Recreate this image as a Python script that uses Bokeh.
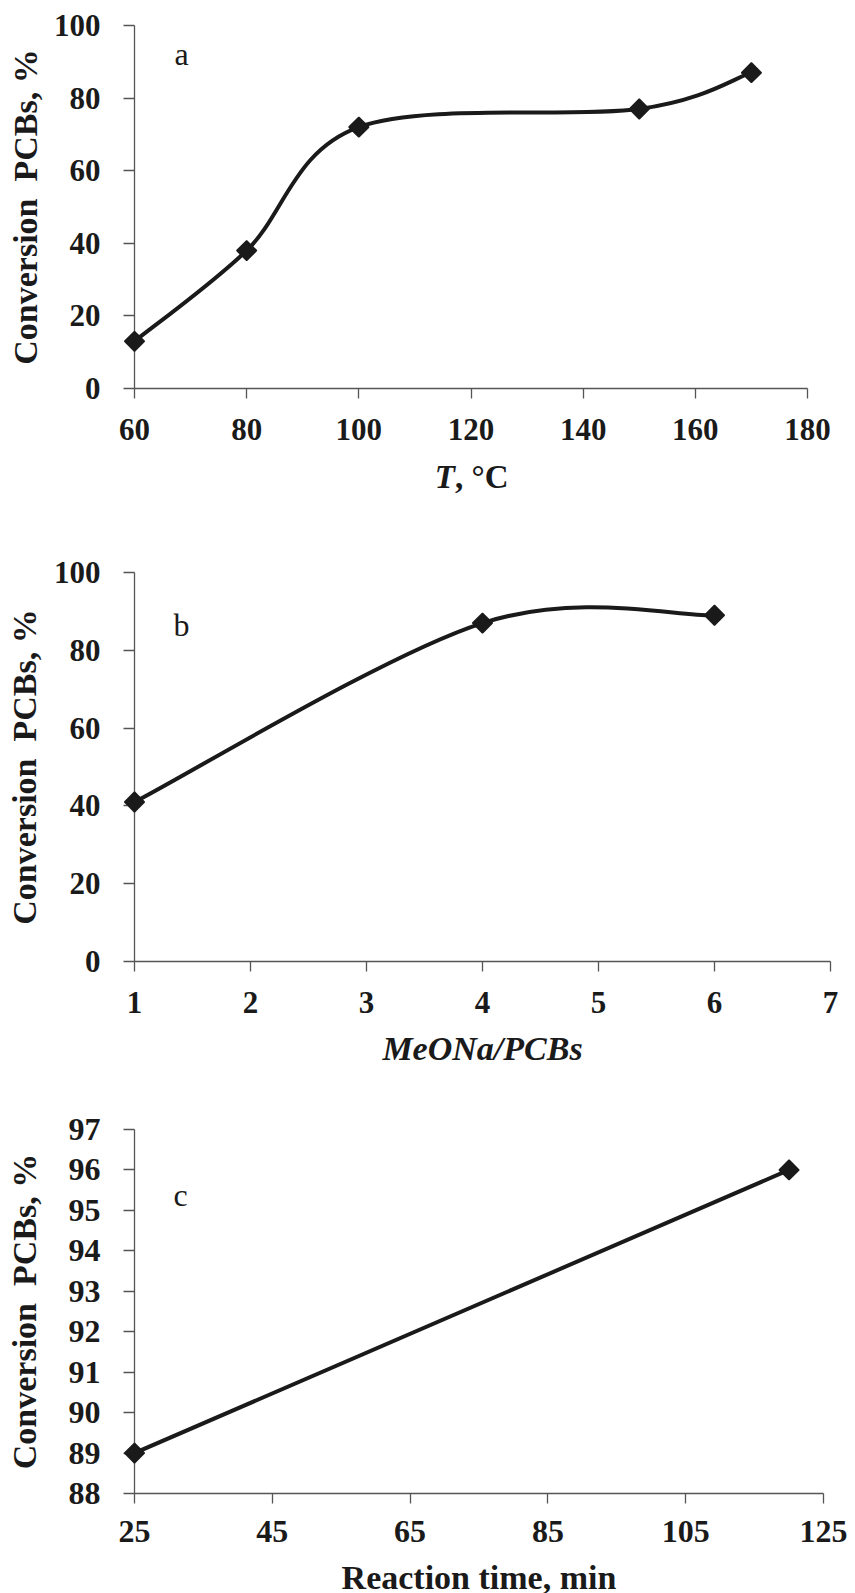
import numpy as np
from bokeh.plotting import figure
from bokeh.layouts import column
from bokeh.models import Range1d, FixedTicker, Label
from bokeh.core.properties import value
from bokeh.embed import file_html
from bokeh.resources import INLINE

# ---------------- data ----------------
# panel a: conversion vs temperature
temp_c = [60, 80, 100, 150, 170]
conv_temp = [13, 38, 72, 77, 87]
temp_ticks = [60, 80, 100, 120, 140, 160, 180]

# panel b: conversion vs MeONa/PCBs ratio
ratio = [1, 4, 6]
conv_ratio = [41, 87, 89]
ratio_ticks = [1, 2, 3, 4, 5, 6, 7]

# panel c: conversion vs reaction time
time_min = [25, 120]
conv_time = [89, 96]
time_ticks = [25, 45, 65, 85, 105, 125]

conv_ticks_ab = [0, 20, 40, 60, 80, 100]
conv_ticks_c = [88, 89, 90, 91, 92, 93, 94, 95, 96, 97]

Y_LABEL = "Conversion\u00a0 PCBs, %"
INK = "#1a1a1a"
AXC = "#555555"
FONT = "Liberation Serif"


def smooth_segments(xs, ys):
    """Bezier control points of a smoothed (Catmull-Rom style) line through the data."""
    x = np.asarray(xs, float)
    y = np.asarray(ys, float)
    n = len(x)
    xp = np.concatenate([[x[0]], x, [x[-1]]])
    yp = np.concatenate([[y[0]], y, [y[-1]]])
    return dict(
        x0=x[:-1], y0=y[:-1], x1=x[1:], y1=y[1:],
        cx0=x[:-1] + (xp[2:n + 1] - xp[0:n - 1]) / 6.0,
        cy0=y[:-1] + (yp[2:n + 1] - yp[0:n - 1]) / 6.0,
        cx1=x[1:] - (xp[3:n + 2] - xp[1:n]) / 6.0,
        cy1=y[1:] - (yp[3:n + 2] - yp[1:n]) / 6.0,
    )


def make_fig(xr, yr, xticks, yticks, bl, fw, br, bt, fh, bb,
             tick_fs, ylab_standoff, xlabel=None, xlab_fs="34px",
             xlab_style="bold", xlab_standoff=10, xtick_standoff=20):
    p = figure(x_range=Range1d(*xr), y_range=Range1d(*yr),
               frame_width=fw, frame_height=fh,
               min_border_left=bl, min_border_right=br,
               min_border_top=bt, min_border_bottom=bb,
               output_backend="svg", toolbar_location=None,
               background_fill_color="white", border_fill_color="white")
    p.outline_line_color = None
    p.xgrid.visible = False
    p.ygrid.visible = False
    p.xaxis.ticker = FixedTicker(ticks=xticks)
    p.yaxis.ticker = FixedTicker(ticks=yticks)
    for ax in (p.xaxis[0], p.yaxis[0]):
        ax.axis_line_color = AXC
        ax.axis_line_width = 1.3
        ax.major_tick_line_color = AXC
        ax.major_tick_line_width = 1.3
        ax.major_tick_in = 0
        ax.major_tick_out = 10
        ax.minor_tick_line_color = None
        ax.major_label_text_font = FONT
        ax.major_label_text_font_style = "bold"
        ax.major_label_text_font_size = tick_fs
        ax.major_label_text_color = INK
    p.xaxis.major_label_standoff = xtick_standoff
    p.yaxis.major_label_standoff = 23
    p.yaxis.major_tick_out = 11
    p.yaxis.axis_label = Y_LABEL
    p.yaxis.axis_label_text_font = FONT
    p.yaxis.axis_label_text_font_style = "bold"
    p.yaxis.axis_label_text_font_size = "34px"
    p.yaxis.axis_label_text_color = INK
    p.yaxis.axis_label_standoff = ylab_standoff
    if xlabel:
        p.xaxis.axis_label = xlabel
        p.xaxis.axis_label_text_font = FONT
        p.xaxis.axis_label_text_font_style = xlab_style
        p.xaxis.axis_label_text_font_size = xlab_fs
        p.xaxis.axis_label_text_color = INK
        p.xaxis.axis_label_standoff = xlab_standoff
    return p


def add_markers(p, xs, ys):
    r = p.scatter(xs, ys, marker="square", size=14, angle=np.pi / 4,
                  fill_color=INK, line_color=INK, line_width=1.5)
    r.level = "overlay"


def panel_letter(p, text, x, y):
    p.add_layout(Label(x=x, y=y, x_units="screen", y_units="screen", text=text,
                       text_font=FONT, text_font_size="32px", text_color=INK,
                       text_baseline="alphabetic", text_align="left"))


# ---------------- panel a ----------------
XR_A = (60, 180)
YR_A = (0, 100)
pa = make_fig(XR_A, YR_A, temp_ticks, conv_ticks_ab,
              bl=133, fw=673, br=49, bt=25, fh=363, bb=157,
              tick_fs="31px", ylab_standoff=7)
seg_a = smooth_segments(temp_c, conv_temp)
pa.bezier(source=seg_a, x0="x0", y0="y0", x1="x1", y1="y1",
          cx0="cx0", cy0="cy0", cx1="cx1", cy1="cy1",
          line_color=INK, line_width=4)
add_markers(pa, temp_c, conv_temp)
panel_letter(pa, "a", 40, 335)

# x-axis title of panel a ("T" italic, ", °C" upright), placed below the axis
mid_a = (XR_A[0] + XR_A[1]) / 2
for txt, style, align in (("T", "bold italic", "right"), (", °C", "bold", "left")):
    r = pa.text(x=[mid_a], y=[YR_A[0]], text=[txt], x_offset=-16, y_offset=88,
                text_font=value(FONT), text_font_size="33px", text_font_style=style,
                text_color=INK, text_align=align, text_baseline="alphabetic")
    r.level = "overlay"

# ---------------- panel b ----------------
pb = make_fig((1, 7), (0, 100), ratio_ticks, conv_ticks_ab,
              bl=134, fw=696, br=25, bt=27, fh=389, bb=139,
              tick_fs="31px", ylab_standoff=8,
              xlabel="MeONa/PCBs", xlab_fs="34px", xlab_style="bold italic",
              xlab_standoff=14)
seg_b = smooth_segments(ratio, conv_ratio)
pb.bezier(source=seg_b, x0="x0", y0="y0", x1="x1", y1="y1",
          cx0="cx0", cy0="cy0", cx1="cx1", cy1="cy1",
          line_color=INK, line_width=4)
add_markers(pb, ratio, conv_ratio)
panel_letter(pb, "b", 39, 337)

# ---------------- panel c ----------------
pc = make_fig((25, 125), (88, 97), time_ticks, conv_ticks_c,
              bl=134, fw=689, br=32, bt=29, fh=364, bb=100,
              tick_fs="32px", ylab_standoff=23,
              xlabel="Reaction time, min", xlab_fs="34px", xlab_style="bold",
              xlab_standoff=14, xtick_standoff=17)
pc.line(time_min, conv_time, line_color=INK, line_width=4)
add_markers(pc, time_min, conv_time)
panel_letter(pc, "c", 39, 299)

layout = column(pa, pb, pc, spacing=0)
open("out.html", "w").write(file_html(layout, INLINE))
